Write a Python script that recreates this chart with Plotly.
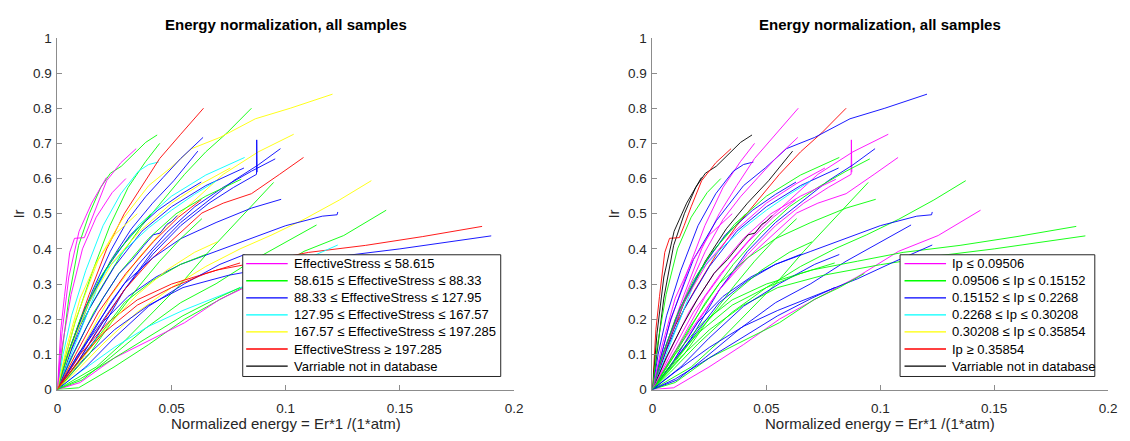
import plotly.graph_objects as go

# Legend classes (same curve set, coloured by two different variables)
stress_labels = [
    "EffectiveStress ≤ 58.615",
    "58.615 ≤ EffectiveStress ≤ 88.33",
    "88.33 ≤ EffectiveStress ≤ 127.95",
    "127.95 ≤ EffectiveStress ≤ 167.57",
    "167.57 ≤ EffectiveStress ≤ 197.285",
    "EffectiveStress ≥ 197.285",
    "Varriable not in database",
]
ip_labels = [
    "Ip ≤ 0.09506",
    "0.09506 ≤ Ip ≤ 0.15152",
    "0.15152 ≤ Ip ≤ 0.2268",
    "0.2268 ≤ Ip ≤ 0.30208",
    "0.30208 ≤ Ip ≤ 0.35854",
    "Ip ≥ 0.35854",
    "Varriable not in database",
]

# Normalized energy (x) and Ir (y) for every sample
curve_x = [
    [0, 0.002, 0.005, 0.0093, 0.014, 0.019, 0.0232, 0.028, 0.034, 0.0387, 0.0437],
    [0, 0.0015, 0.0031, 0.0054, 0.0075, 0.0093, 0.0118, 0.0139, 0.017, 0.0216, 0.0278, 0.0345],
    [0, 0.002, 0.005, 0.0095, 0.015, 0.0185, 0.0215],
    [0, 0.003, 0.0077, 0.0155, 0.023, 0.031, 0.0386, 0.0448],
    [0, 0.0025, 0.0062, 0.0124, 0.02, 0.0278, 0.0355, 0.04, 0.0443],
    [0, 0.0062, 0.0139, 0.0216, 0.0293, 0.037, 0.0448, 0.054, 0.064],
    [0, 0.0093, 0.0186, 0.028, 0.037, 0.0464, 0.0557, 0.065, 0.0743, 0.085],
    [0, 0.008, 0.018, 0.028, 0.04, 0.0495, 0.0588, 0.0712, 0.0867, 0.102, 0.1205],
    [0, 0.0077, 0.0155, 0.0232, 0.031, 0.0386, 0.0463, 0.054, 0.0638],
    [0, 0.0062, 0.0139, 0.0232, 0.0324, 0.0417, 0.051, 0.0615],
    [0, 0.0108, 0.0232, 0.0355, 0.0479, 0.0602, 0.0726, 0.088, 0.1035],
    [0, 0.009, 0.017, 0.0293, 0.0417, 0.054, 0.0664, 0.0772, 0.0872, 0.0873, 0.0875],
    [0, 0.008, 0.017, 0.0293, 0.0417, 0.054, 0.0664, 0.0772, 0.088, 0.0977],
    [0, 0.0108, 0.0232, 0.0355, 0.0479, 0.0602, 0.0726, 0.085, 0.0954],
    [0, 0.0077, 0.017, 0.0293, 0.0417, 0.054, 0.0633, 0.0726, 0.085, 0.0973, 0.1078],
    [0, 0.017, 0.0293, 0.0417, 0.054, 0.0664, 0.0757, 0.085, 0.0947],
    [0, 0.008, 0.02, 0.035, 0.05, 0.065, 0.08, 0.094, 0.108, 0.1235, 0.1375],
    [0, 0.0093, 0.0248, 0.040, 0.0557, 0.0712, 0.0898, 0.108, 0.1254, 0.144],
    [0, 0.0093, 0.02, 0.031, 0.0432, 0.054, 0.0695, 0.085, 0.10, 0.116, 0.1225, 0.1228],
    [0, 0.0077, 0.017, 0.0293, 0.0417, 0.054, 0.0695, 0.085, 0.098],
    [0, 0.0108, 0.0232, 0.0386, 0.054, 0.0695, 0.085, 0.10, 0.1135],
    [0, 0.01, 0.022, 0.035, 0.05, 0.07, 0.09, 0.11, 0.135, 0.16, 0.186],
    [0, 0.012, 0.025, 0.04, 0.055, 0.075, 0.1, 0.125, 0.15, 0.17, 0.19],
    [0, 0.01, 0.025, 0.04, 0.055, 0.072, 0.09, 0.105, 0.1228],
    [0, 0.0139, 0.0247, 0.0355, 0.0448, 0.054, 0.0633],
    [0, 0.0077, 0.0185, 0.0293, 0.0417, 0.054, 0.0653],
    [0, 0.0124, 0.0248, 0.04, 0.0557, 0.0712, 0.082],
    [0, 0.01, 0.025, 0.04, 0.0557, 0.071, 0.082, 0.093],
    [0, 0.007, 0.016, 0.027, 0.04, 0.052, 0.065, 0.0805],
    [0, 0.006, 0.014, 0.025, 0.037, 0.05, 0.065, 0.0817],
    [0, 0.008, 0.02, 0.03, 0.04, 0.05, 0.06, 0.0697],
    [0, 0.006, 0.014, 0.024, 0.036, 0.05, 0.065, 0.082],
    [0, 0.006, 0.013, 0.02, 0.027, 0.033, 0.038, 0.042, 0.045, 0.048, 0.05, 0.0525],
    [0, 0.006, 0.014, 0.024, 0.036, 0.05, 0.063, 0.0757],
    [0, 0.005, 0.012, 0.021, 0.032, 0.044, 0.054, 0.063],
    [0, 0.004, 0.01, 0.018, 0.026, 0.034, 0.041],
    [0, 0.004, 0.01, 0.017, 0.025, 0.035],
    [0, 0.002, 0.006, 0.011, 0.017, 0.024, 0.03],
    [0, 0.008, 0.018, 0.03, 0.042, 0.053, 0.063],
    [0, 0.01, 0.022, 0.035, 0.048, 0.06, 0.07],
    [0, 0.008, 0.02, 0.035, 0.05, 0.065, 0.08],
    [0, 0.01, 0.025, 0.04, 0.055, 0.07, 0.08],
]
curve_y = [
    [0, 0.11, 0.26, 0.41, 0.50, 0.575, 0.615, 0.635, 0.672, 0.703, 0.724],
    [0, 0.17, 0.265, 0.39, 0.43, 0.43, 0.432, 0.466, 0.52, 0.594, 0.645, 0.685],
    [0, 0.16, 0.32, 0.45, 0.53, 0.57, 0.603],
    [0, 0.08, 0.19, 0.338, 0.466, 0.575, 0.648, 0.70],
    [0, 0.10, 0.21, 0.338, 0.466, 0.557, 0.621, 0.64, 0.647],
    [0, 0.13, 0.27, 0.40, 0.50, 0.58, 0.657, 0.726, 0.80],
    [0, 0.174, 0.283, 0.384, 0.466, 0.539, 0.612, 0.676, 0.73, 0.80],
    [0, 0.20, 0.37, 0.48, 0.58, 0.63, 0.685, 0.717, 0.77, 0.80, 0.84],
    [0, 0.155, 0.283, 0.393, 0.484, 0.548, 0.603, 0.657, 0.717],
    [0, 0.119, 0.247, 0.365, 0.457, 0.53, 0.594, 0.678],
    [0, 0.119, 0.265, 0.374, 0.466, 0.539, 0.612, 0.676, 0.726],
    [0, 0.10, 0.17, 0.283, 0.384, 0.466, 0.53, 0.575, 0.612, 0.71, 0.618],
    [0, 0.07, 0.146, 0.283, 0.393, 0.475, 0.539, 0.594, 0.639, 0.685],
    [0, 0.11, 0.247, 0.356, 0.447, 0.52, 0.575, 0.621, 0.656],
    [0, 0.064, 0.164, 0.283, 0.374, 0.447, 0.502, 0.53, 0.557, 0.612, 0.66],
    [0, 0.064, 0.137, 0.219, 0.30, 0.393, 0.457, 0.52, 0.589],
    [0, 0.05, 0.13, 0.22, 0.29, 0.35, 0.40, 0.44, 0.484, 0.539, 0.594],
    [0, 0.005, 0.064, 0.128, 0.20, 0.256, 0.32, 0.393, 0.438, 0.51],
    [0, 0.082, 0.192, 0.265, 0.32, 0.356, 0.393, 0.429, 0.466, 0.493, 0.497, 0.505],
    [0, 0.082, 0.183, 0.301, 0.374, 0.429, 0.475, 0.516, 0.541],
    [0, 0.027, 0.091, 0.174, 0.247, 0.301, 0.365, 0.42, 0.468],
    [0, 0.10, 0.19, 0.255, 0.30, 0.34, 0.365, 0.39, 0.41, 0.435, 0.464],
    [0, 0.09, 0.17, 0.24, 0.29, 0.325, 0.355, 0.38, 0.40, 0.418, 0.437],
    [0, 0.05, 0.12, 0.18, 0.225, 0.268, 0.315, 0.36, 0.411],
    [0, 0.10, 0.20, 0.292, 0.365, 0.429, 0.486],
    [0, 0.064, 0.155, 0.247, 0.31, 0.356, 0.385],
    [0, 0.064, 0.146, 0.237, 0.301, 0.356, 0.384],
    [0, 0.02, 0.09, 0.14, 0.19, 0.256, 0.29, 0.33],
    [0, 0.10, 0.22, 0.33, 0.43, 0.50, 0.55, 0.598],
    [0, 0.11, 0.23, 0.35, 0.45, 0.52, 0.58, 0.63],
    [0, 0.13, 0.33, 0.40, 0.46, 0.51, 0.555, 0.594],
    [0, 0.12, 0.25, 0.37, 0.47, 0.55, 0.61, 0.66],
    [0, 0.09, 0.18, 0.26, 0.33, 0.37, 0.41, 0.44, 0.445, 0.47, 0.478, 0.495],
    [0, 0.12, 0.25, 0.36, 0.45, 0.53, 0.585, 0.63],
    [0, 0.11, 0.23, 0.34, 0.44, 0.51, 0.555, 0.59],
    [0, 0.09, 0.20, 0.31, 0.39, 0.45, 0.50],
    [0, 0.12, 0.26, 0.36, 0.44, 0.50],
    [0, 0.12, 0.27, 0.40, 0.49, 0.56, 0.60],
    [0, 0.10, 0.22, 0.33, 0.42, 0.49, 0.54],
    [0, 0.08, 0.18, 0.27, 0.34, 0.39, 0.42],
    [0, 0.07, 0.16, 0.24, 0.29, 0.33, 0.36],
    [0, 0.03, 0.09, 0.15, 0.21, 0.26, 0.29],
]
# Class index of each sample: 0..5 by value range, 6 = not in database
stress_class = [1, 0, 0, 1, 3, 5, 1, 4, 2, 2, 4, 2, 2, 2, 5, 1, 4, 1, 2, 2, 1,
                5, 2, 3, 1, 1, 2, 0, 1, 2, 3, 3, 2, 4, 2, 1, 4, 0, 5, 4, 5, 1]
ip_class = [6, 5, 6, 0, 2, 0, 5, 2, 0, 6, 0, 0, 2, 1, 0, 1, 1, 0, 2, 1, 2,
            1, 1, 2, 1, 2, 2, 1, 0, 2, 3, 1, 6, 0, 2, 1, 0, 1, 0, 1, 1, 2]

class_colors = ["#ff00ff", "#00ff00", "#0000ff", "#00ffff", "#ffff00", "#ff0000", "#000000"]

W, H = 1130, 441
FONT = "Liberation Sans, Arial, Helvetica, sans-serif"
TXT = "#262626"
AX = "#8c8c8c"


def px_x(p):
    return p / W


def px_y(p):
    return (H - p) / H


fig = go.Figure()

panels = [("x", "y", stress_class), ("x2", "y2", ip_class)]
for xa, ya, classes in panels:
    for xs, ys, c in zip(curve_x, curve_y, classes):
        fig.add_trace(go.Scatter(
            x=xs, y=ys, mode="lines", xaxis=xa, yaxis=ya,
            line=dict(color=class_colors[c], width=0.9),
            showlegend=False, hoverinfo="skip",
        ))

axis_common = dict(
    showline=True, linecolor=AX, linewidth=1, mirror=False,
    ticks="inside", ticklen=5, tickcolor=AX, tickwidth=1,
    showgrid=False, zeroline=False,
    tickfont=dict(family=FONT, size=13.5, color=TXT),
)
fig.update_layout(
    width=W, height=H,
    margin=dict(l=0, r=0, t=0, b=0),
    paper_bgcolor="white", plot_bgcolor="white",
    showlegend=False,
    xaxis=dict(domain=[px_x(54), px_x(516)], range=[0, 0.2], dtick=0.05, anchor="y",
               ticklabelstandoff=6, **axis_common),
    yaxis=dict(domain=[px_y(396), px_y(32)], range=[0, 1], dtick=0.1, anchor="x",
               ticklabelstandoff=2, **axis_common),
    xaxis2=dict(domain=[px_x(656), px_x(1117)], range=[0, 0.2], dtick=0.05, anchor="y2",
                ticklabelstandoff=6, **axis_common),
    yaxis2=dict(domain=[px_y(396), px_y(32)], range=[0, 1], dtick=0.1, anchor="x2",
                ticklabelstandoff=2, **axis_common),
)

annotations = []
shapes = []
for x0, x1 in [(54, 516), (656, 1117)]:
    cx = (x0 + x1) / 2
    annotations.append(dict(
        text="<b>Energy normalization, all samples</b>", x=px_x(cx), y=px_y(18),
        xref="paper", yref="paper", xanchor="center", yanchor="middle", showarrow=False,
        font=dict(family=FONT, size=15, color="#000000"),
    ))
    annotations.append(dict(
        text="Normalized energy = Er*1 /(1*atm)", x=px_x(cx), y=px_y(431),
        xref="paper", yref="paper", xanchor="center", yanchor="middle", showarrow=False,
        font=dict(family=FONT, size=15, color=TXT),
    ))
    annotations.append(dict(
        text="Ir", x=px_x(x0 - 39), y=px_y(214), textangle=-90,
        xref="paper", yref="paper", xanchor="center", yanchor="middle", showarrow=False,
        font=dict(family=FONT, size=15, color=TXT),
    ))

# Legend boxes drawn inside each panel
legend_boxes = [
    (stress_labels, 241, 502, 245, 287, 291),
    (ip_labels, 906, 1103, 911, 953, 957),
]
ROW0, ROWSTEP = 265.7, 17.67
for labels, bx0, bx1, lx0, lx1, tx in legend_boxes:
    shapes.append(dict(
        type="rect", xref="paper", yref="paper",
        x0=px_x(bx0 + 0.5), x1=px_x(bx1 + 0.5), y0=px_y(382.5), y1=px_y(256.5),
        line=dict(color="#262626", width=1), fillcolor="white", layer="above",
    ))
    for i, (lab, col) in enumerate(zip(labels, class_colors)):
        ry = ROW0 + i * ROWSTEP
        shapes.append(dict(
            type="line", xref="paper", yref="paper",
            x0=px_x(lx0), x1=px_x(lx1), y0=px_y(ry), y1=px_y(ry),
            line=dict(color=col, width=1.3), layer="above",
        ))
        annotations.append(dict(
            text=lab, x=px_x(tx), y=px_y(ry),
            xref="paper", yref="paper", xanchor="left", yanchor="middle", showarrow=False,
            font=dict(family=FONT, size=13, color="#000000"),
        ))

fig.update_layout(annotations=annotations, shapes=shapes)

fig.write_html("out.html")
